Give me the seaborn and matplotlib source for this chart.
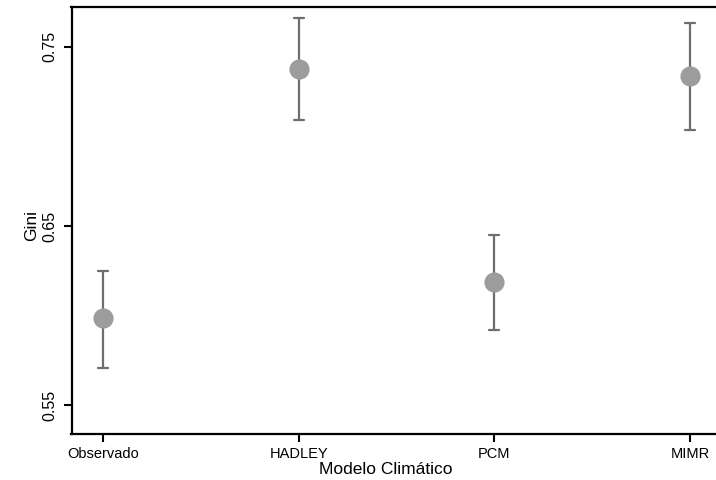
"""Gini por modelo climático, con intervalos."""
import matplotlib
matplotlib.use("Agg")
import matplotlib.pyplot as plt
import numpy as np
import pandas as pd
import seaborn as sns

modelos = ["Observado", "HADLEY", "PCM", "MIMR"]
gini = [0.5986, 0.7377, 0.6187, 0.7335]
limite_inf = [0.5707, 0.7092, 0.5919, 0.7036]
limite_sup = [0.6249, 0.7662, 0.6450, 0.7634]
y_ticks = [0.55, 0.65, 0.75]

# one row per bound so the library draws point + interval
rows = []
for m, lo, g, hi in zip(modelos, limite_inf, gini, limite_sup):
    for v in (lo, g, hi):
        rows.append({"Modelo": m, "Gini": v})
df = pd.DataFrame(rows)

sns.set_style("white")
plt.rcParams["font.family"] = ["Liberation Sans", "DejaVu Sans"]
plt.rcParams["text.color"] = "black"
plt.rcParams["axes.labelcolor"] = "black"
plt.rcParams["xtick.color"] = "black"
plt.rcParams["ytick.color"] = "black"

fig = plt.figure(figsize=(7.16, 4.80), dpi=100)
ax = fig.add_axes([71.5 / 716, 46 / 480, 1 - 71.5 / 716, (434 - 7) / 480])

sns.pointplot(
    data=df, x="Modelo", y="Gini", order=modelos,
    estimator=np.median, errorbar=lambda v: (v.min(), v.max()),
    linestyle="none", marker="o", markersize=12.5, color="#9c9c9c",
    capsize=0.05, err_kws={"color": "#6e6e6e", "linewidth": 1.6, "zorder": 2},
    zorder=3, ax=ax,
)

ax.set_xlim(-0.161, 3.133)
ax.set_ylim(0.5338, 0.7723)
ax.set_yticks(y_ticks)
ax.set_yticklabels([f"{t:.2f}" for t in y_ticks], rotation=90, va="center", fontsize=11.5)
ax.tick_params(axis="x", labelsize=10.5, length=6, width=1.5, pad=3, direction="out", bottom=True)
ax.tick_params(axis="y", length=6, width=1.5, pad=4, direction="out", left=True)

for side in ["left", "bottom", "top"]:
    ax.spines[side].set_linewidth(1.6)
    ax.spines[side].set_color("black")
ax.spines["right"].set_visible(False)

ax.set_xlabel("Modelo Climático", fontsize=12.5)
ax.set_ylabel("Gini", fontsize=12.5)
ax.xaxis.set_label_coords(0.488, -0.065)
ax.yaxis.set_label_coords(-0.05, 0.489)

fig.savefig("out.png", dpi=100)
plt.close(fig)
